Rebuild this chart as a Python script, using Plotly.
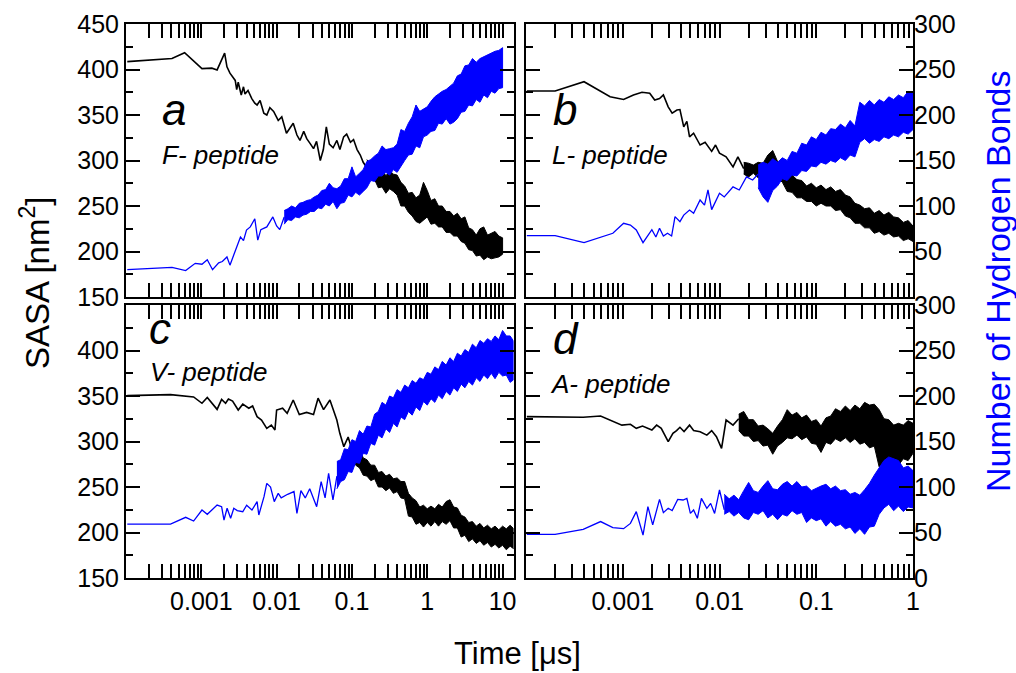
import plotly.graph_objects as go

# ---------------- data (time in microseconds) ----------------
# common log-spaced sample times used by the dense (noisy) part of every trace
T_GRID = [0.0100, 0.0112, 0.0126, 0.0141, 0.0158, 0.0178, 0.0200, 0.0224, 0.0251, 0.0282,
          0.0316, 0.0355, 0.0398, 0.0447, 0.0501, 0.0562, 0.0631, 0.0708, 0.0794, 0.0891,
          0.100, 0.112, 0.126, 0.141, 0.158, 0.178, 0.200, 0.224, 0.251, 0.282,
          0.316, 0.355, 0.398, 0.447, 0.501, 0.562, 0.631, 0.708, 0.794, 0.891,
          1.00, 1.12, 1.26, 1.41, 1.58, 1.78, 2.00, 2.24, 2.51, 2.82,
          3.16, 3.55, 3.98, 4.47, 5.01, 5.62, 6.31, 7.08, 7.94, 8.91,
          10.0, 11.2, 12.6, 14.1]

# ---- Panel a : F-peptide ----
tF_line = [1.04e-4, 4.08e-4, 6.0e-4, 1.02e-3, 1.38e-3, 1.62e-3, 2.04e-3, 2.19e-3, 2.40e-3, 2.82e-3,
           2.95e-3, 3.09e-3, 3.39e-3, 3.63e-3, 3.80e-3, 4.17e-3, 4.68e-3, 5.13e-3, 5.50e-3, 6.03e-3,
           6.76e-3, 7.41e-3, 8.13e-3, 9.12e-3, 1.05e-2, 1.17e-2, 1.35e-2, 1.51e-2, 1.66e-2, 1.86e-2,
           2.04e-2, 2.29e-2, 2.51e-2, 2.82e-2, 3.09e-2, 3.39e-2, 3.80e-2, 4.17e-2, 4.57e-2, 5.01e-2,
           5.62e-2, 6.31e-2, 6.92e-2, 7.76e-2, 8.51e-2, 9.55e-2, 0.105, 0.117, 0.129, 0.141, 0.158]
sasaF_line = [408.6, 412, 418.5, 401, 401.5, 399.5, 418, 403, 396, 388,
              378, 386, 372, 381, 373, 377, 368, 363, 361, 366,
              352, 350, 358, 354, 344, 348, 330, 336, 341, 328,
              322, 332, 324, 318, 313, 321, 300, 312, 337, 318,
              314, 322, 312, 326, 329, 320, 323, 312, 306, 298, 292]
tF_band = T_GRID[24:61]
sasaF_lo = [289, 283, 279, 270, 271, 264, 269, 266, 262, 250, 250, 243, 239, 233, 231, 234, 238, 230, 231,
            227, 227, 221, 221, 217, 217, 211, 209, 202, 201, 195, 196, 191, 194, 192, 193, 194, 197]
sasaF_hi = [301, 294, 294, 287, 291, 283, 289, 285, 284, 276, 272, 264, 265, 259, 262, 276, 267, 256, 258,
            250, 250, 244, 244, 239, 242, 236, 238, 226, 224, 218, 225, 227, 218, 220, 222, 217, 215]

hbF_t_line = [1.04e-4, 4.08e-4, 6.2e-4, 8.3e-4, 1.02e-3, 1.2e-3, 1.41e-3, 1.70e-3, 1.9e-3, 2.19e-3,
              2.4e-3, 2.82e-3, 3.31e-3, 3.63e-3, 3.98e-3, 4.47e-3, 5.13e-3, 5.62e-3, 6.17e-3, 7.41e-3,
              8.91e-3, 1.0e-2, 1.1e-2, 1.26e-2]
hbF_line = [30, 32.5, 29, 37, 36, 41, 30, 37.5, 39, 44,
            35, 51.5, 66, 62, 73.5, 77, 86, 62.5, 74, 77,
            88, 78, 74, 88]
hbF_t_band = T_GRID[2:61]
hbF_lo = [80, 85, 84, 88, 87, 90, 91, 94, 94, 98, 97, 102, 100, 105, 97, 103, 104, 112, 110, 115,
          112, 116, 120, 128, 127, 133, 133, 137, 134, 140, 137, 144, 150, 156, 157, 166, 164, 176, 178,
          182, 183, 191, 190, 196, 190, 192, 196, 203, 204, 211, 210, 217, 214, 222, 219, 226, 224, 229, 230]
hbF_hi = [95, 97, 100, 98, 103, 104, 106, 107, 110, 112, 117, 118, 125, 120, 119, 122, 130, 130, 143, 132,
          136, 140, 149, 151, 155, 158, 166, 162, 163, 164, 168, 184, 182, 191, 198, 211, 204, 207, 209,
          215, 220, 223, 226, 228, 232, 235, 243, 245, 254, 255, 262, 258, 262, 264, 266, 268, 270, 271, 274]

# ---- Panel b : L-peptide ----
tL_line = [1.02e-4, 2.0e-4, 3.98e-4, 7.4e-4, 1.02e-3, 1.29e-3, 1.58e-3, 1.9e-3, 2.14e-3, 2.4e-3,
           2.63e-3, 2.95e-3, 3.24e-3, 3.63e-3, 3.9e-3, 4.27e-3, 4.6e-3, 4.9e-3, 5.4e-3, 6.3e-3,
           7.1e-3, 8.3e-3, 9.1e-3, 1.0e-2, 1.17e-2, 1.38e-2, 1.55e-2, 1.78e-2]
sasaL_line = [376.4, 376.4, 386.6, 370, 367, 372, 375, 374, 366.5, 368,
              372, 359, 352, 355.5, 356, 337, 343, 326, 330, 317,
              320, 310, 317, 308, 304, 293, 304, 291]
tL_band = T_GRID[5:41]
sasaL_lo = [285, 282, 286, 281, 285, 283, 289, 281, 276, 266, 265, 259, 259, 255, 255, 250, 253, 250,
            250, 245, 246, 239, 237, 231, 231, 226, 226, 220, 222, 218, 220, 216, 217, 212, 214, 211]
sasaL_hi = [298, 297, 295, 298, 297, 306, 311, 299, 294, 284, 284, 279, 278, 272, 275, 270, 273, 268,
            271, 266, 268, 262, 260, 253, 251, 247, 248, 242, 245, 240, 243, 238, 237, 232, 234, 228]

hbL_t_line = [1.02e-4, 2.0e-4, 3.98e-4, 7.9e-4, 1.02e-3, 1.2e-3, 1.38e-3, 1.62e-3, 2.0e-3, 2.2e-3,
              2.4e-3, 2.63e-3, 2.9e-3, 3.2e-3, 3.47e-3, 3.9e-3, 4.27e-3, 4.9e-3, 5.4e-3, 6.3e-3,
              7.0e-3, 7.6e-3, 8.3e-3, 1.0e-2, 1.12e-2, 1.38e-2, 1.6e-2, 1.9e-2, 2.2e-2, 2.51e-2]
hbL_line = [67.4, 67.4, 59.7, 70, 81, 79, 73.6, 59.7, 74, 66,
            75.5, 67, 70, 67, 88.3, 82.8, 90, 95.6, 92, 106.6,
            101, 117.6, 96, 114, 110, 121, 117.6, 132, 128.6, 135]
hbL_t_band = T_GRID[8:41]
hbL_lo = [120, 110, 104, 117, 122, 130, 128, 134, 133, 139, 138, 144, 143, 148, 146, 150, 148,
          153, 150, 156, 154, 170, 174, 169, 173, 171, 176, 174, 178, 176, 181, 179, 184]
hbL_hi = [145, 148, 146, 152, 148, 153, 150, 160, 158, 169, 167, 176, 173, 181, 178, 185, 184,
          190, 186, 194, 188, 214, 210, 216, 211, 217, 214, 220, 217, 222, 219, 226, 224]

# ---- Panel c : V-peptide ----
tV_line = [1.04e-4, 3.9e-4, 7.9e-4, 1.02e-3, 1.2e-3, 1.62e-3, 1.86e-3, 2.1e-3, 2.29e-3, 2.6e-3,
           3.09e-3, 3.55e-3, 4.27e-3, 4.8e-3, 5.5e-3, 6.3e-3, 7.4e-3, 8.5e-3, 9.5e-3, 1.0e-2,
           1.2e-2, 1.38e-2, 1.66e-2, 2.0e-2, 2.5e-2, 3.09e-2, 3.55e-2, 4.2e-2, 5.1e-2, 6.3e-2,
           6.9e-2, 7.8e-2, 8.9e-2, 0.1]
sasaV_line = [350.4, 351.5, 349, 342, 348.5, 335.3, 346.3, 342, 346.7, 344.5,
              334.6, 341, 336.5, 339, 327.3, 323.6, 314.5, 318, 312.6, 334.6,
              336.5, 331, 345.6, 329.6, 332, 329.6, 347.6, 335, 345.6, 323.6,
              309, 294.3, 305, 291]
tV_band = T_GRID[20:64]
sasaV_lo = [282, 274, 271, 263, 262, 257, 259, 250, 250, 246, 249, 243, 245, 238, 237, 218, 217, 209, 211,
            206, 211, 207, 212, 207, 212, 209, 213, 205, 205, 195, 197, 190, 193, 188, 191, 186, 189, 184,
            187, 183, 186, 181, 185, 182]
sasaV_hi = [301, 295, 292, 282, 280, 274, 274, 266, 267, 262, 264, 259, 260, 256, 256, 243, 238, 235, 228,
            230, 226, 229, 226, 231, 228, 234, 236, 228, 227, 219, 217, 211, 212, 207, 210, 205, 208, 204,
            207, 203, 207, 204, 208, 204]

hbV_t_line = [1.04e-4, 3.9e-4, 6.2e-4, 7.9e-4, 1.02e-3, 1.2e-3, 1.62e-3, 1.86e-3, 2.0e-3, 2.2e-3,
              2.45e-3, 2.7e-3, 3.0e-3, 3.55e-3, 4.0e-3, 4.7e-3, 5.5e-3, 5.8e-3, 6.8e-3, 7.4e-3,
              8.3e-3, 9.3e-3, 1.05e-2, 1.15e-2, 1.4e-2, 1.7e-2, 1.86e-2, 2.1e-2, 2.4e-2, 2.75e-2,
              3.4e-2, 3.9e-2, 4.4e-2, 4.9e-2, 5.6e-2, 6.31e-2]
hbV_line = [59.3, 59.3, 66.7, 62.6, 74.7, 70, 80.2, 78.4, 63.7, 76.6,
            65.6, 76.6, 74, 72.8, 80, 74.7, 83.9, 69.2, 89.4, 104,
            100, 83.9, 93, 88, 92, 95, 71, 96, 88, 98,
            78.4, 106, 88, 115, 85.7, 112]
hbV_t_band = T_GRID[16:64]
hbV_lo = [98, 106, 108, 117, 116, 127, 126, 137, 136, 148, 146, 157, 154, 164, 160, 170, 166, 177, 174,
          183, 179, 188, 184, 194, 190, 197, 193, 201, 197, 205, 201, 209, 205, 213, 209, 216, 212, 220,
          216, 223, 219, 225, 219, 226, 222, 223, 215, 218]
hbV_hi = [128, 130, 142, 141, 152, 150, 162, 158, 167, 166, 180, 183, 193, 190, 200, 198, 207, 204, 212,
          209, 217, 214, 220, 218, 226, 224, 232, 229, 238, 234, 242, 238, 247, 244, 251, 248, 257, 253,
          261, 258, 263, 260, 266, 262, 272, 266, 266, 260]

# ---- Panel d : A-peptide ----
tA_line = [1.02e-4, 3.9e-4, 5.9e-4, 7.4e-4, 9.8e-4, 1.2e-3, 1.38e-3, 1.6e-3, 2.0e-3, 2.24e-3,
           2.5e-3, 2.95e-3, 3.3e-3, 3.6e-3, 3.9e-3, 4.3e-3, 4.9e-3, 5.4e-3, 6.3e-3, 7.4e-3,
           8.3e-3, 9.3e-3, 1.05e-2, 1.17e-2, 1.38e-2, 1.58e-2]
sasaA_line = [327.3, 326.6, 328, 323.6, 318, 318.9, 314.5, 317, 312.6, 318,
              314.5, 299.8, 309, 312, 315.6, 311, 318, 312, 310.8, 307,
              312, 305.3, 292.5, 323.6, 318, 325]
tA_band = T_GRID[4:41]
sasaA_lo = [312, 306, 306, 300, 301, 295, 296, 286, 295, 299, 304, 303, 307, 302, 305, 298, 297, 288, 299,
            297, 303, 300, 304, 299, 303, 297, 299, 293, 295, 272, 277, 272, 278, 274, 281, 279, 287]
sasaA_hi = [330, 333, 324, 324, 317, 318, 314, 309, 317, 324, 335, 329, 332, 326, 329, 322, 324, 317, 326,
            328, 336, 333, 339, 334, 340, 336, 343, 340, 341, 335, 325, 324, 318, 320, 318, 323, 320]

hbA_t_line = [1.02e-4, 2.0e-4, 3.9e-4, 5.9e-4, 7.9e-4, 1.02e-3, 1.2e-3, 1.38e-3, 1.62e-3, 1.82e-3,
              2.04e-3, 2.4e-3, 2.63e-3, 2.95e-3, 3.24e-3, 3.7e-3, 4.2e-3, 4.6e-3, 5.0e-3, 5.4e-3,
              5.9e-3, 6.5e-3, 7.4e-3, 8.1e-3, 8.9e-3, 9.5e-3, 1.0e-2, 1.12e-2]
hbA_line = [48, 48, 53.5, 62, 55.3, 54.2, 60, 72.9, 47.2, 78.4,
            58.4, 86.4, 71.8, 76.6, 74, 86.4, 85.7, 87.5, 71, 74.7,
            65.6, 87.5, 76.6, 82, 71, 88, 96.7, 75]
hbA_t_band = T_GRID[1:41]
hbA_lo = [70, 73, 68, 72, 66, 64, 72, 70, 74, 66, 70, 64, 70, 68, 74, 70, 72, 61, 66, 63,
          65, 57, 62, 57, 59, 54, 56, 49, 54, 48, 56, 57, 70, 77, 81, 74, 79, 73, 78, 77]
hbA_hi = [92, 87, 91, 86, 96, 105, 96, 94, 101, 107, 98, 97, 103, 106, 101, 106, 100, 101, 96, 99,
          101, 103, 98, 101, 96, 97, 92, 94, 91, 97, 104, 113, 121, 129, 133, 131, 129, 121, 123, 118]

panel_letters = ["a", "b", "c", "d"]
panel_names = ["F- peptide", "L- peptide", "V- peptide", "A- peptide"]
x_tick_left = [0.001, 0.01, 0.1, 1, 10]
x_tick_right = [0.001, 0.01, 0.1, 1]
sasa_ticks = [150, 200, 250, 300, 350, 400, 450]
hb_ticks = [0, 50, 100, 150, 200, 250, 300]

BLUE = "#0000ff"
FONT = "Liberation Sans, Arial, Helvetica, sans-serif"
W, H = 1016, 673

fig = go.Figure()

panels = [
    dict(tl=tF_line, sl=sasaF_line, tb=tF_band, slo=sasaF_lo, shi=sasaF_hi,
         htl=hbF_t_line, hl=hbF_line, htb=hbF_t_band, hlo=hbF_lo, hhi=hbF_hi),
    dict(tl=tL_line, sl=sasaL_line, tb=tL_band, slo=sasaL_lo, shi=sasaL_hi,
         htl=hbL_t_line, hl=hbL_line, htb=hbL_t_band, hlo=hbL_lo, hhi=hbL_hi),
    dict(tl=tV_line, sl=sasaV_line, tb=tV_band, slo=sasaV_lo, shi=sasaV_hi,
         htl=hbV_t_line, hl=hbV_line, htb=hbV_t_band, hlo=hbV_lo, hhi=hbV_hi),
    dict(tl=tA_line, sl=sasaA_line, tb=tA_band, slo=sasaA_lo, shi=sasaA_hi,
         htl=hbA_t_line, hl=hbA_line, htb=hbA_t_band, hlo=hbA_lo, hhi=hbA_hi),
]

for i, p in enumerate(panels):
    n = i + 1
    xa = "x" if n == 1 else f"x{n}"
    ya = "y" if n == 1 else f"y{n}"
    yb = f"y{n + 4}"
    # SASA (black)
    fig.add_trace(go.Scatter(x=p["tl"], y=p["sl"], mode="lines", xaxis=xa, yaxis=ya,
                             line=dict(color="black", width=1.6), showlegend=False))
    fig.add_trace(go.Scatter(x=list(p["tb"]) + list(p["tb"])[::-1],
                             y=list(p["shi"]) + list(p["slo"])[::-1],
                             mode="lines", fill="toself", fillcolor="black", xaxis=xa, yaxis=ya,
                             line=dict(color="black", width=1.0), showlegend=False))
    # Hydrogen bonds (blue)
    fig.add_trace(go.Scatter(x=p["htl"], y=p["hl"], mode="lines", xaxis=xa, yaxis=yb,
                             line=dict(color=BLUE, width=1.3), showlegend=False))
    fig.add_trace(go.Scatter(x=list(p["htb"]) + list(p["htb"])[::-1],
                             y=list(p["hhi"]) + list(p["hlo"])[::-1],
                             mode="lines", fill="toself", fillcolor=BLUE, xaxis=xa, yaxis=yb,
                             line=dict(color=BLUE, width=1.0), showlegend=False))

# panel geometry in pixels
px_left = [(126, 513.5), (526, 913), (126, 513.5), (526, 913)]
px_top = [(24, 297), (24, 297), (305, 578), (305, 578)]

tickfont = dict(family=FONT, size=25, color="black")
layout = dict(width=W, height=H, autosize=False, margin=dict(l=0, r=0, t=0, b=0, pad=0),
              paper_bgcolor="white", plot_bgcolor="white",
              font=dict(family=FONT, color="black"), showlegend=False)

for i in range(4):
    n = i + 1
    xk = "xaxis" if n == 1 else f"xaxis{n}"
    yk = "yaxis" if n == 1 else f"yaxis{n}"
    hk = f"yaxis{n + 4}"
    xa = "x" if n == 1 else f"x{n}"
    ya = "y" if n == 1 else f"y{n}"
    x0, x1 = px_left[i]
    t0, t1 = px_top[i]
    xdom = [x0 / W, x1 / W]
    ydom = [1 - t1 / H, 1 - t0 / H]
    left = i in (0, 2)
    bottom = i in (2, 3)
    xt = x_tick_left if left else x_tick_right
    layout[xk] = dict(type="log", domain=xdom, anchor=ya, automargin=False,
                      range=[-4, 1.145] if left else [-4, 0],
                      tickmode="array", tickvals=xt, ticktext=[str(v) for v in xt],
                      showticklabels=bottom, tickfont=tickfont,
                      ticks="inside", ticklen=14, tickwidth=1.5, tickcolor="black",
                      showline=True, linecolor="black", linewidth=2, mirror="allticks",
                      showgrid=False, zeroline=False,
                      minor=dict(ticks="inside", ticklen=7, tickwidth=1.5, tickcolor="black",
                                 dtick="D1", showgrid=False))
    svals = sasa_ticks if i != 2 else sasa_ticks[:-1]
    layout[yk] = dict(domain=ydom, anchor=xa, range=[150, 450], automargin=False,
                      tickmode="array", tickvals=svals, showticklabels=left,
                      tickfont=tickfont, ticks="inside", ticklen=14, tickwidth=1.5,
                      tickcolor="black", showline=True, linecolor="black", linewidth=2,
                      mirror="allticks", showgrid=False, zeroline=False,
                      minor=dict(ticks="inside", ticklen=7, tickwidth=1.5, tickcolor="black",
                                 dtick=25, showgrid=False))
    hvals = hb_ticks if i == 3 else hb_ticks[1:]
    layout[hk] = dict(overlaying=ya, anchor=xa, side="right", range=[0, 300], automargin=False,
                      tickmode="array", tickvals=hvals, showticklabels=not left,
                      tickfont=tickfont, ticks="", showline=False,
                      showgrid=False, zeroline=False)

ann = []
letter_pos = [(160, 110), (551, 110), (147, 328), (551, 338)]
name_pos = [(160, 155), (550, 155), (148, 372), (548, 384)]
for i in range(4):
    lx, ly = letter_pos[i]
    ann.append(dict(text=f"<i>{panel_letters[i]}</i>", x=lx / W, y=1 - ly / H,
                    xref="paper", yref="paper", xanchor="left", yanchor="middle",
                    showarrow=False, font=dict(family=FONT, size=44, color="black")))
    nx, ny = name_pos[i]
    ann.append(dict(text=f"<i>{panel_names[i]}</i>", x=nx / W, y=1 - ny / H,
                    xref="paper", yref="paper", xanchor="left", yanchor="middle",
                    showarrow=False, font=dict(family=FONT, size=26, color="black")))

ann.append(dict(text="Time [\u03bcs]", x=517 / W, y=1 - 653 / H, xref="paper", yref="paper",
                xanchor="center", yanchor="middle", showarrow=False,
                font=dict(family=FONT, size=31, color="black")))
ann.append(dict(text="SASA [nm<sup>2</sup>]", x=35 / W, y=1 - 283 / H, xref="paper", yref="paper",
                xanchor="center", yanchor="middle", showarrow=False, textangle=-90,
                font=dict(family=FONT, size=33, color="black")))
ann.append(dict(text="Number of Hydrogen Bonds", x=998 / W, y=1 - 282 / H, xref="paper",
                yref="paper", xanchor="center", yanchor="middle", showarrow=False, textangle=-90,
                font=dict(family=FONT, size=34, color=BLUE)))
layout["annotations"] = ann

fig.update_layout(**layout)
fig.write_html("out.html")
